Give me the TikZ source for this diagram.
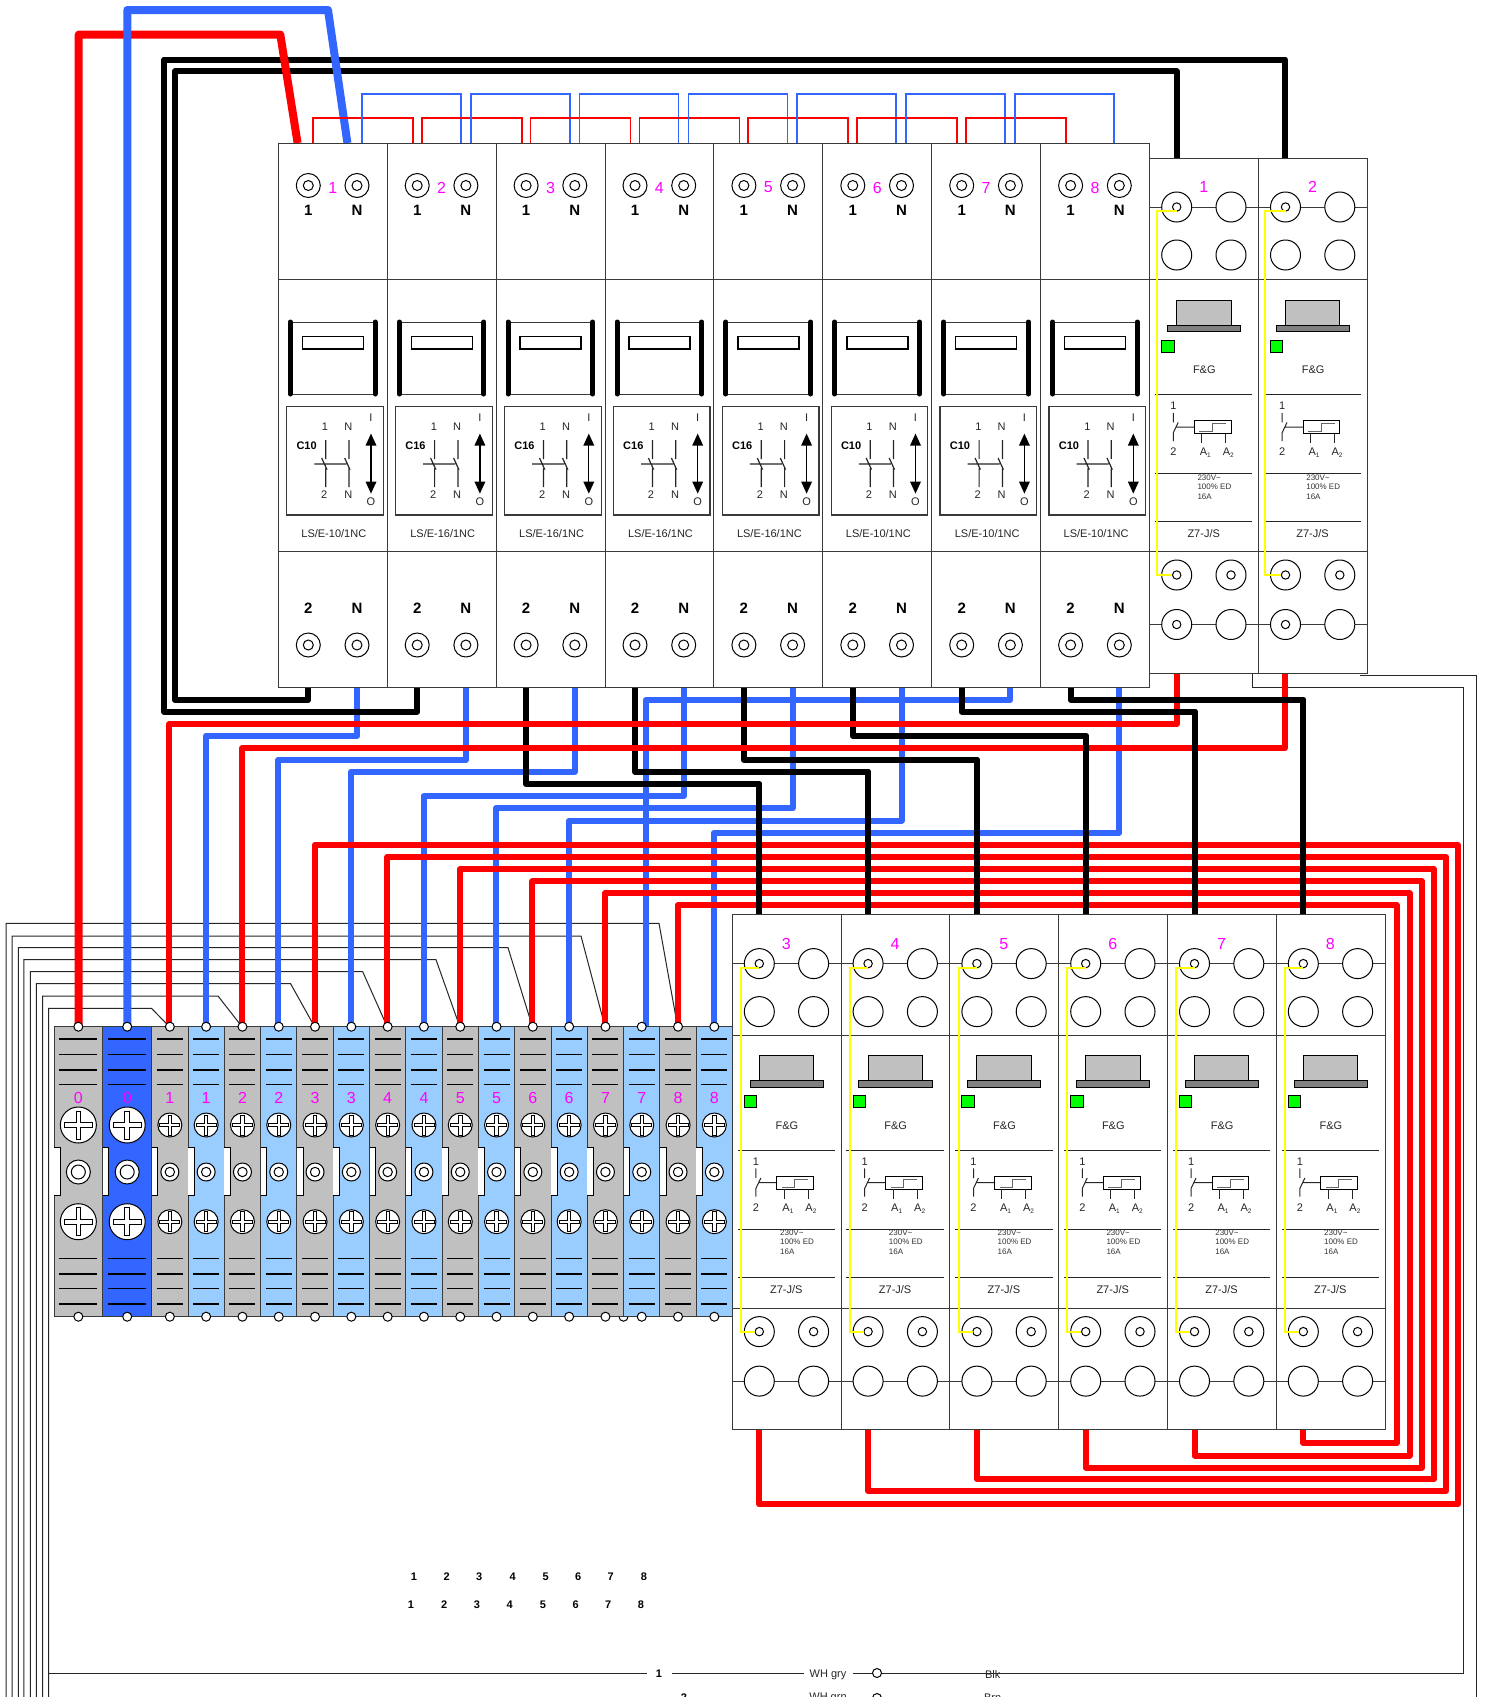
\documentclass[tikz,border=0pt]{standalone}
\usepackage{fontspec}
\setmainfont{Liberation Sans}
\definecolor{wred}{HTML}{FF0000}
\definecolor{wblue}{HTML}{3366FF}
\definecolor{lblue}{HTML}{99CCFF}
\definecolor{tgray}{HTML}{C0C0C0}
\definecolor{dgray}{HTML}{808080}
\definecolor{edge}{HTML}{3A3A3A}
\definecolor{mag}{HTML}{FF00FF}
\definecolor{led}{HTML}{00FF00}
\definecolor{ylw}{HTML}{FFFF00}
\tikzset{
  f8/.style={font=\fontsize{8}{9.5}\selectfont,inner sep=0pt,text=black!80},
  f11/.style={font=\fontsize{11}{13}\selectfont,inner sep=0pt,text=black!85},
  fb11/.style={font=\fontsize{11}{13}\selectfont\bfseries,inner sep=0pt},
  fb15/.style={font=\fontsize{15}{17}\selectfont\bfseries,inner sep=0pt},
  fmag/.style={font=\fontsize{16}{18}\selectfont,inner sep=0pt,text=mag},
  body/.style={draw=edge,line width=1pt,fill=white},
  thin wire/.style={draw=black!85,line width=1pt},
  redw/.style={draw=wred,line width=6pt,line join=round},
  bluew/.style={draw=wblue,line width=6pt,line join=round},
  blackw/.style={draw=black,line width=6pt,line join=round},
  bigred/.style={draw=wred,line width=8pt,line join=round},
  bigblue/.style={draw=wblue,line width=8pt,line join=round},
  chainred/.style={draw=wred,line width=1.8pt},
  chainblue/.style={draw=wblue,line width=1.8pt},
  contact/.style={draw=black,line width=1pt,fill=white},
  yellowj/.style={draw=ylw,line width=2pt},
  dot/.style={draw=black,line width=1pt,fill=white},
}
% breaker module: x, number, Cxx, rating
\newcommand\breaker[4]{%
\begin{scope}[shift={(#1,143)}]
 \draw[body] (0,0) rectangle (108.9,544);
 \draw[edge,line width=1pt] (0,136)--(108.9,136) (0,408)--(108.9,408);
 \draw[contact] (30,42.5) circle (12); \draw[contact] (30,42.5) circle (5);
 \draw[contact] (78.7,42.5) circle (12); \draw[contact] (78.7,42.5) circle (5);
 \node[fmag] (bn#2) at (54.4,44.5) {#2};
 \node[fb15] (bta#2) at (30,67.5) {1};
 \node[fb15] (btb#2) at (78.7,67.5) {N};
 % handle
 \draw[edge,line width=1pt] (12,179)--(96.7,179) (12,251)--(96.7,251);
 \draw[black,line width=5pt,line cap=round] (12,179)--(12,251) (96.7,179)--(96.7,251);
 \draw[black,line width=1.4pt] (24,193.4) rectangle (85,206);
 % label box
 \draw[edge,line width=1.2pt] (8.3,263.8) rectangle (105,372);
 \node[fb11] (bc#2) at (28.3,303) {#3};
 \node[f11] (bp1#2) at (46.7,284) {1};
 \node[f11] (bp2#2) at (70,284) {N};
 \node[f11] (bp3#2) at (46,352) {2};
 \node[f11] (bp4#2) at (70,352) {N};
 \draw[black!85,line width=1.2pt]
   (47.4,297)--(47.4,316) (43.4,315)--(48.4,326)--(47.4,326)--(47.4,344)
   (70.7,297)--(70.7,316) (66.4,315)--(71.4,326)--(70.7,326)--(70.7,344)
   (36,321)--(68,321);
 \draw[black,line width=1.3pt] (92.7,300)--(92.7,341);
 \fill[black] (92.7,290.6)--(98.2,302.6)--(87.2,302.6)--cycle;
 \fill[black] (92.7,350.6)--(98.2,338.6)--(87.2,338.6)--cycle;
 \node[f11] (bi#2) at (92.7,274.5) {I};
 \node[f11] (bo#2) at (92.7,359) {O};
 \node[f11] (bm#2) at (55.5,391) {LS/E-#4/1NC};
 % bottom
 \node[fb15] (bba#2) at (30,465.6) {2};
 \node[fb15] (bbb#2) at (78.7,465.6) {N};
 \draw[contact] (30,502) circle (12); \draw[contact] (30,502) circle (5);
 \draw[contact] (78.7,502) circle (12); \draw[contact] (78.7,502) circle (5);
\end{scope}}
% relay module: x, y, number, lower-left inner contact (1/0), yellow x, nudge of the middle part
\newcommand\relay[6]{%
\begin{scope}[shift={(#1,#2)}]
 \draw[body] (0,0) rectangle (108.7,515);
 \draw[edge,line width=1pt] (0,121)--(108.7,121) (0,393.7)--(108.7,393.7);
 \draw[edge,line width=1pt] (0,49)--(108.7,49) (0,466.5)--(108.7,466.5);
 \foreach \cx in {27,81.3}{
   \foreach \cy in {49,97,417,466.5}{\draw[contact] (\cx,\cy) circle (15);}
   \draw[contact] (\cx,417) circle (4.2);}
 \draw[contact] (27,49) circle (4.2);
 \ifnum#4=1 \draw[contact] (27,466.5) circle (4.2);\fi
 \node[fmag] (rn#3) at (54,29) {#3};
 \begin{scope}[shift={(0,#6)}]
 \draw[draw=black,line width=1pt,fill=tgray] (27,142) rectangle (81.3,167);
 \draw[draw=black,line width=1pt,fill=dgray] (17.7,167) rectangle (91,173.5);
 \draw[draw=black,line width=1pt,fill=led] (12,182) rectangle (24.3,194);
 \node[f11] (rf#3) at (54.6,211.6) {F\&G};
 \draw[black!85,line width=1pt] (5.3,236.5)--(102.6,236.5) (5.3,315.4)--(102.6,315.4) (5.3,363.7)--(102.6,363.7);
 \node[f11] (r1#3) at (23.6,248) {1};
 \node[f11] (r2#3) at (23.6,293.7) {2};
 \draw[black!85,line width=1pt] (23.6,254.8)--(23.6,264.4) (23.6,283)--(23.6,274.8)--(28.5,264.4)
   (26,269)--(44.6,269);
 \draw[black,line width=1pt,fill=white] (44.6,262.7) rectangle (81.3,275.8);
 \draw[black!60,line width=1pt] (49.6,273.7)--(62.6,273.7)--(62.6,265.4)--(76,265.4);
 \draw[black!85,line width=1pt] (52,275.8)--(52,285) (76,275.8)--(76,285);
 \node[f11] (ra1#3) at (55.6,295) {A\raisebox{-2pt}{\fontsize{6.5}{7}\selectfont 1}};
 \node[f11] (ra2#3) at (78.6,295) {A\raisebox{-2pt}{\fontsize{6.5}{7}\selectfont 2}};
 \node[f8,anchor=west] (rv#3) at (47.6,319.6) {230V\textasciitilde};
 \node[f8,anchor=west] (re#3) at (47.6,328.6) {100\% ED};
 \node[f8,anchor=west] (ra#3) at (47.6,338.6) {16A};
 \node[f11] (rz#3) at (54,375.8) {Z7-J/S};
 \end{scope}
 \draw[yellowj] (27,53)--(#5,53)--(#5,417)--(22.6,417);
\end{scope}}
\newcommand\screwx[4]{% x y r arm
\begin{scope}[shift={(#1,#2)}]
 \draw[dot] (0,0) circle (#3);
 \pgfmathsetmacro\hw{#4/6}
 \draw[draw=black,line width=.8pt,fill=white] (-\hw,-#4)--(\hw,-#4)--(\hw,-\hw)--(#4,-\hw)--(#4,\hw)--(\hw,\hw)--(\hw,#4)--(-\hw,#4)--(-\hw,\hw)--(-#4,\hw)--(-#4,-\hw)--(-\hw,-\hw)--cycle;
\end{scope}}
% terminal: left x, width, fill, label, big(1)/narrow(0), index
\newcommand\terminal[6]{%
 \pgfmathsetmacro\cxx{#1+#2/2}
 \begin{scope}[shift={(#1,1026.7)}]
  \draw[draw=edge,line width=1pt,fill=#3] (0,0) rectangle (#2,290);
  \fill[white] (0,120.3) rectangle (6,169);
  \draw[black,line width=.8pt] (0,120.3)--(6,120.3)--(6,169)--(0,169);
 \end{scope}
 \ifnum#5=1 \def\sh{19}\def\sr{18}\def\sa{14}\def\mr{12}\def\mi{7}\else \def\sh{13}\def\sr{12}\def\sa{10}\def\mr{9}\def\mi{4.7}\fi
 \foreach \yy in {1039,1054.3,1070,1084.3,1258.3,1274,1288.7,1304}{\draw[black,line width=1.4pt] ({\cxx-\sh},\yy)--({\cxx+\sh},\yy);}
 \node[fmag] (tn#6) at (\cxx,1098) {#4};
 \screwx{\cxx}{1125}{\sr}{\sa}
 \screwx{\cxx}{1221.7}{\sr}{\sa}
 \draw[dot] (\cxx,1172) circle (\mr); \draw[dot] (\cxx,1172) circle (\mi);
 \draw[dot] (\cxx,1026.7) circle (4.5);
 \draw[dot] (\cxx,1316.7) circle (4.5);
}
\newcommand\wirehv[3]{(#1) -- (#1 |- 0,#2) -- (#3 |- 0,#2) -- (#3)}
\begin{document}
\begin{tikzpicture}[x=1pt,y=-1pt]
\useasboundingbox (0,0) rectangle (1486,1697);
\clip (0,0) rectangle (1486,1697);
\fill[white] (0,0) rectangle (1486,1697);
% named attachment points
\foreach \i in {1,...,8}{
  \coordinate (Bs\i) at ({308.3+108.9*(\i-1)},687);
  \coordinate (Bn\i) at ({357+108.9*(\i-1)},687);
  \coordinate (Tg\i) at ({169.4+72.6*(\i-1)},1026.7);
  \coordinate (Tb\i) at ({205.7+72.6*(\i-1)},1026.7);
}
\coordinate (Tw7) at (645.8,1026.7);
\coordinate (Rt1) at (1176.7,158); \coordinate (Rt2) at (1285.3,158);
\coordinate (Rb1) at (1176.7,673); \coordinate (Rb2) at (1285.3,673);
\foreach \i in {3,...,8}{
  \coordinate (Rt\i) at ({759.3+108.8*(\i-3)},914.6);
  \coordinate (Rb\i) at ({759.3+108.8*(\i-3)},1428);
}
\coordinate (P0r) at (78.7,1026.7);
\coordinate (P0b) at (127.3,1026.7);
\coordinate (B1tr) at (297.6,143);
\coordinate (B1tb) at (347.4,143);
% thin wires on the left
\foreach \yl/\xl/\xk/\tt in {1008.3/48.7/151.5/1,996/42.7/218/2,983.7/36.3/290.6/3,971.7/30.3/362.7/4,959.7/23.9/436/5,947.7/18.4/508/6,936/12/581/7,923.3/6/659/8}{
  \coordinate (L\tt) at (\xl,\yl);
  \draw[thin wire] (Tg\tt) -- (\xk,\yl) -- (L\tt) -- (\xl,1700);
}
% lead that closes the loop at the bottom and right
\coordinate (Lr) at (1463.7,1673);
\draw[thin wire] (L1) -- (48.7,1673) -- (647,1673);
\draw[thin wire] (672,1673) -- (804,1673);
\draw[thin wire] (852.7,1673) -- (Lr) -- (1463.7,687.3) -- (1252,687.3) -- (1252,673);
\draw[thin wire] (1360,675) -- (1476,675) -- (1476,1700);
% blue
\draw[bluew] \wirehv{Bn1}{736}{Tb1};
\draw[bluew] \wirehv{Bn2}{760}{Tb2};
\draw[bluew] \wirehv{Bn3}{771.7}{Tb3};
\draw[bluew] \wirehv{Bn4}{796}{Tb4};
\draw[bluew] \wirehv{Bn5}{808.3}{Tb5};
\draw[bluew] \wirehv{Bn6}{820.7}{Tb6};
\draw[bluew] \wirehv{Bn7}{700}{Tw7};
\draw[bluew] \wirehv{Bn8}{832.7}{Tb8};
% black, whole runs
\draw[blackw] \wirehv{Bs3}{784.3}{Rt3};
\draw[blackw] \wirehv{Bs4}{771.7}{Rt4};
\draw[blackw] \wirehv{Bs5}{760}{Rt5};
\draw[blackw] \wirehv{Bs6}{736}{Rt6};
\draw[blackw] \wirehv{Bs7}{711.7}{Rt7};
\draw[blackw] \wirehv{Bs8}{700}{Rt8};
% red
\draw[redw] \wirehv{Rb1}{724}{Tg1};
\draw[redw] \wirehv{Rb2}{748.3}{Tg2};
\foreach \m/\yb/\xr/\yt in {3/1504.4/1458/845,4/1491/1446/857,5/1479.4/1434/869.3,6/1467.6/1422/881.3,7/1455.6/1409.5/893.3,8/1442.7/1397/905.3}{
  \draw[redw] (Rb\m) -- (Rb\m |- 0,\yb) -- (\xr,\yb) -- (\xr,\yt) -- (Tg\m |- 0,\yt) -- (Tg\m);
}
% black again: the runs that lie over the red
\draw[blackw] (Bs3 |- 0,784.3) -- (Rt3 |- 0,784.3) -- (Rt3);
\draw[blackw] (Bs4 |- 0,771.7) -- (Rt4 |- 0,771.7) -- (Rt4);
\draw[blackw] (Bs5 |- 0,760) -- (Rt5 |- 0,760) -- (Rt5);
\draw[blackw] (Bs6 |- 0,736) -- (Rt6 |- 0,736) -- (Rt6);
\draw[blackw] (Bs7 |- 0,711.7) -- (Rt7 |- 0,711.7) -- (Rt7);
\draw[blackw] (Bs8 |- 0,700) -- (Rt8 |- 0,700) -- (Rt8);
% black loops over the top
\draw[blackw] (Bs1) -- (Bs1 |- 0,700) -- (175,700) -- (175,71.4) -- (Rt1 |- 0,71.4) -- (Rt1);
\draw[blackw] (Bs2) -- (Bs2 |- 0,711.7) -- (164,711.7) -- (164,59.5) -- (Rt2 |- 0,59.5) -- (Rt2);
% main feeds
\draw[bigred] (P0r) -- (P0r |- 0,34.6) -- (280.3,34.6) -- (B1tr);
\draw[bigblue] (P0b) -- (P0b |- 0,10) -- (328,10) -- (B1tb);
% daisy chains
\foreach \i in {0,...,6}{
  \draw[chainred] ({312.7+108.9*\i},143) -- ({312.7+108.9*\i},118) -- ({412.7+108.9*\i},118) -- ({412.7+108.9*\i},143);
  \draw[chainblue] ({361.7+108.9*\i},143) -- ({361.7+108.9*\i},94.2) -- ({460.7+108.9*\i},94.2) -- ({460.7+108.9*\i},143);
}
% stray contact under the block
\draw[dot] (623.5,1316.7) circle (4.5);
% terminals
\terminal{54}{48.7}{tgray}{0}{1}{a}
\terminal{102.7}{49}{wblue}{0}{1}{b}
\foreach \i in {1,...,8}{
  \pgfmathsetmacro\xa{151.7+72.6*(\i-1)}
  \pgfmathsetmacro\xb{188+72.6*(\i-1)}
  \edef\doit{\noexpand\terminal{\xa}{36.3}{tgray}{\i}{0}{g\i}\noexpand\terminal{\xb}{36.3}{lblue}{\i}{0}{l\i}}
  \doit
}
% breakers
\breaker{278.3}{1}{C10}{10}
\breaker{387.2}{2}{C16}{16}
\breaker{496.1}{3}{C16}{16}
\breaker{605}{4}{C16}{16}
\breaker{713.9}{5}{C16}{16}
\breaker{822.8}{6}{C10}{10}
\breaker{931.7}{7}{C10}{10}
\breaker{1040.6}{8}{C10}{10}
% relays
\relay{1149.7}{158}{1}{1}{7}{0}
\relay{1258.5}{158}{2}{1}{6}{0}
\relay{732.3}{914.6}{3}{0}{8.7}{-1}
\relay{841.1}{914.6}{4}{0}{8.7}{-1}
\relay{949.9}{914.6}{5}{0}{8.7}{-1}
\relay{1058.7}{914.6}{6}{0}{8.7}{-1}
\relay{1167.5}{914.6}{7}{0}{8.7}{-1}
\relay{1276.3}{914.6}{8}{0}{8.7}{-1}
% number rows
\foreach \i/\xa/\xb in {1/414/411,2/446.7/444.3,3/479.3/477,4/512.7/509.7,5/545.7/543,6/578.3/575.7,7/610.7/608.3,8/644/641}{
  \node[fb11] (ra\i) at (\xa,1577) {\i};
  \node[fb11] (rb\i) at (\xb,1605) {\i};
}
% legend
\node[fb11] (lg1) at (659,1674) {1};
\node[f11] (lg2) at (828,1674.5) {WH gry};
\draw[dot] (877,1673) circle (4.5);
\node[f11] (lg3) at (992.7,1674) {Blk};
\node[fb11] (lg4) at (684,1698) {2};
\node[f11] (lg5) at (828,1698) {WH grn};
\draw[dot] (877,1698) circle (4.5);
\node[f11] (lg6) at (992.7,1698) {Brn};
\end{tikzpicture}
\end{document}
